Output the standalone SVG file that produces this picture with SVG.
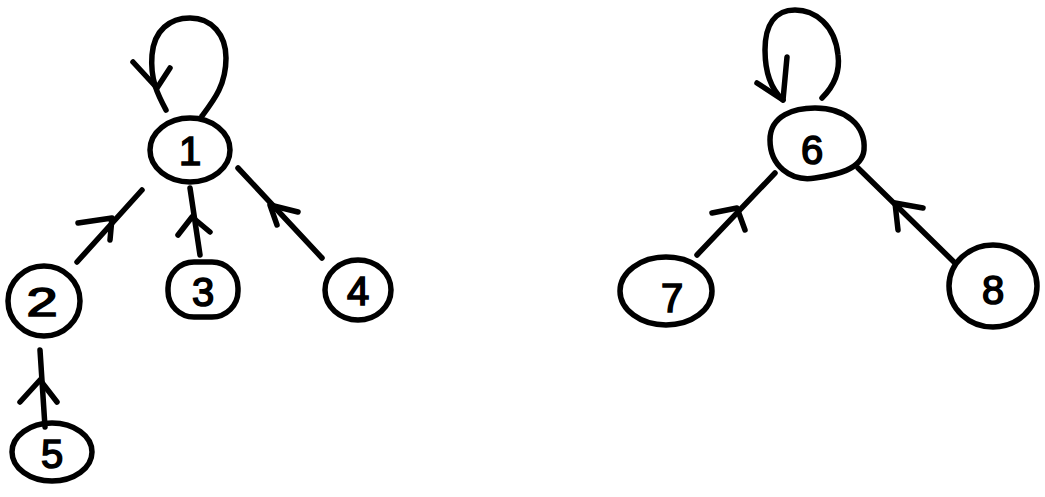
<svg xmlns="http://www.w3.org/2000/svg" width="1045" height="497" viewBox="0 0 1045 497">
<style>
.n{fill:none;stroke:#000;stroke-width:5.5;stroke-linecap:round;stroke-linejoin:round}
.e{fill:none;stroke:#000;stroke-width:5.5;stroke-linecap:round;stroke-linejoin:round}
.t{font-family:"Liberation Sans","DejaVu Sans",sans-serif;font-size:40px;fill:#000;stroke:#000;stroke-width:1.6;text-anchor:middle}
</style>
<rect width="1045" height="497" fill="#fff"/>
<g id="connectors">
  <path class="e" d="M166,110 C158,95 150,80 152,55 C154,30 170,18 190,18 C212,18 226,35 226,58 C226,85 214,100 202,116"/>
  <polyline class="e" points="133,62 157,88 170,68"/>
  <line class="e" x1="77" y1="262" x2="142" y2="190"/>
  <polyline class="e" points="78,223 112,218 110,240"/>
  <line class="e" x1="200" y1="255" x2="190" y2="188"/>
  <polyline class="e" points="178,235 192,217 210,232"/>
  <line class="e" x1="322" y1="258" x2="238" y2="168"/>
  <polyline class="e" points="277,225 270,205 298,212"/>
  <line class="e" x1="45" y1="427" x2="40" y2="350"/>
  <polyline class="e" points="20,402 40,380 57,402"/>
  <path class="e" d="M822,98 C835,85 840,70 838,55 C835,25 815,10 795,10 C775,10 765,25 765,50 C765,75 772,90 783,100"/>
  <polyline class="e" points="787,57 783,100 757,83"/>
  <line class="e" x1="697" y1="255" x2="775" y2="173"/>
  <polyline class="e" points="712,213 737,208 745,230"/>
  <line class="e" x1="955" y1="263" x2="858" y2="168"/>
  <polyline class="e" points="898,230 895,203 923,208"/>
</g>
<g id="node1">
  <ellipse class="n" cx="190" cy="150" rx="40" ry="32"/>
  <text class="t" x="190" y="165">1</text>
</g>
<g id="node2">
  <ellipse class="n" cx="44" cy="301" rx="36" ry="35"/>
  <text class="t" x="42" y="316" font-size="38" transform="translate(42 0) scale(1.4 1) translate(-42 0)">2</text>
</g>
<g id="node3">
  <rect class="n" x="168" y="262" width="70" height="55" rx="26"/>
  <text class="t" x="203" y="306">3</text>
</g>
<g id="node4">
  <ellipse class="n" cx="358" cy="290" rx="33" ry="30"/>
  <text class="t" x="358" y="305">4</text>
</g>
<g id="node5">
  <ellipse class="n" cx="52" cy="452" rx="40" ry="29"/>
  <text class="t" x="52" y="468">5</text>
</g>
<g id="node6">
  <path class="n" d="M770,140 C770,115 795,108 815,108 C845,108 866,125 864,150 C862,170 835,175 815,178 C790,182 770,165 770,140 Z"/>
  <text class="t" x="812" y="164" font-size="50">6</text>
</g>
<g id="node7">
  <ellipse class="n" cx="666" cy="291" rx="46" ry="34"/>
  <text class="t" x="672" y="312" font-size="46">7</text>
</g>
<g id="node8">
  <ellipse class="n" cx="993" cy="286" rx="44" ry="41"/>
  <text class="t" x="993" y="304" font-size="50">8</text>
</g>
</svg>
